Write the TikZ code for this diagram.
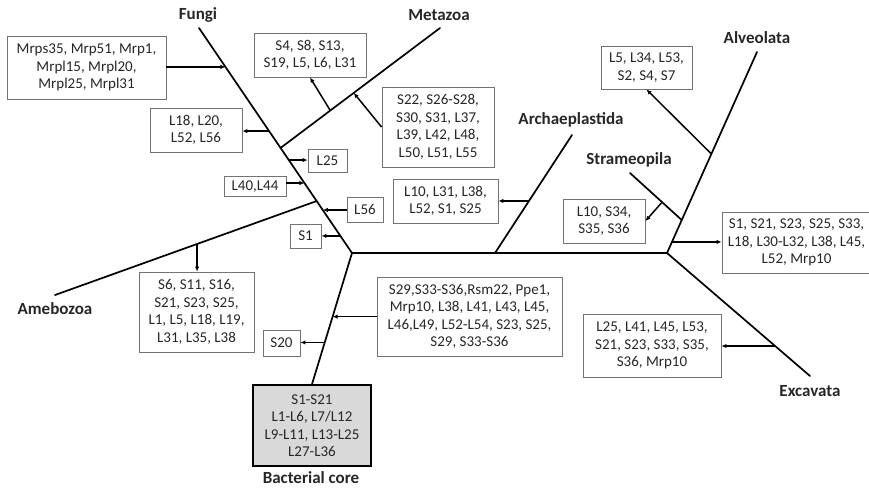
\documentclass[tikz,border=0pt]{standalone}
\usepackage{fontspec}
\setmainfont{Carlito}
\usetikzlibrary{arrows.meta,calc}
\begin{document}
\begin{tikzpicture}[x=1pt,y=-1pt,
  box/.style={draw=black!55,line width=0.9pt,align=center,inner sep=1pt,
    font=\fontsize{15}{17.5}\selectfont,text=black!85},
  corebox/.style={box,draw=black,line width=1.6pt,fill=black!15},
  clade/.style={font=\fontsize{17}{20}\selectfont\bfseries,text=black!85},
  branch/.style={line width=1.7pt,line cap=round},
  arr/.style={line width=1.5pt,-{Latex[length=5pt,width=4.5pt]}}]
\useasboundingbox (0,0) rectangle (869,488);
% boxes
\node[box,minimum width=159,minimum height=63] (mrps) at (86.5,67.5) {Mrps35, Mrp51, Mrp1,\\Mrpl15, Mrpl20,\\Mrpl25, Mrpl31};
\node[box,minimum width=92,minimum height=44] (l18) at (196,130) {L18, L20,\\L52, L56};
\node[box,minimum width=112,minimum height=44] (s4) at (310,55) {S4, S8, S13,\\S19, L5, L6, L31};
\node[box,minimum width=112,minimum height=80] (s22) at (438,127) {S22, S26-S28,\\S30, S31, L37,\\L39, L42, L48,\\L50, L51, L55};
\node[box,minimum width=39,minimum height=23] (l25) at (327.5,160.5) {L25};
\node[box,minimum width=62,minimum height=20] (l40) at (255,186.5) {L40,L44};
\node[box,minimum width=36,minimum height=25] (l56) at (365,209.5) {L56};
\node[box,minimum width=31,minimum height=24] (s1) at (305.5,236) {S1};
\node[box,minimum width=115,minimum height=80] (s6) at (196.5,312) {S6, S11, S16,\\S21, S23, S25,\\L1, L5, L18, L19,\\L31, L35, L38};
\node[box,minimum width=105,minimum height=44] (arch) at (445.5,201) {L10, L31, L38,\\L52, S1, S25};
\node[box,minimum width=91,minimum height=43] (l5) at (646.5,67.5) {L5, L34, L53,\\S2, S4, S7};
\node[box,minimum width=82,minimum height=44] (l10) at (604,221) {L10, S34,\\S35, S36};
\node[box,minimum width=149,minimum height=61] (rt) at (796.5,242.5) {S1, S21, S23, S25, S33,\\L18, L30-L32, L38, L45,\\L52, Mrp10};
\node[box,minimum width=185,minimum height=79] (mid) at (469.5,316.5) {S29,S33-S36,Rsm22, Ppe1,\\Mrp10, L38, L41, L43, L45,\\L46,L49, L52-L54, S23, S25,\\S29, S33-S36};
\node[box,minimum width=37,minimum height=26] (s20) at (281.5,343) {S20};
\node[box,minimum width=138,minimum height=63] (exc) at (652,345.5) {L25, L41, L45, L53,\\S21, S23, S33, S35,\\S36, Mrp10};
\node[corebox,minimum width=118,minimum height=81] (core) at (312,425.5) {S1-S21\\L1-L6, L7/L12\\L9-L11, L13-L25\\L27-L36};
% clade labels
\node[clade] (lfungi) at (198,15) {Fungi};
\node[clade] (lmeta) at (439,15) {Metazoa};
\node[clade] (larch) at (571,120) {Archaeplastida};
\node[clade] (lstram) at (629,160) {Strameopila};
\node[clade] (lalv) at (757,38) {Alveolata};
\node[clade] (lameb) at (55,309) {Amebozoa};
\node[clade] (lexc) at (810,391) {Excavata};
\node[clade] (lcore) at (311,478) {Bacterial core};
% tree coordinates
\coordinate (J) at (352,253);
\coordinate (E) at (667,253);
\coordinate (F1) at (199,28);
\coordinate (M1) at (440,28);
\coordinate (A1) at (55,295);
\coordinate (P0) at (495,253);
\coordinate (P1) at (572,135);
\coordinate (V1) at (757,52);
\coordinate (W1) at (630,173);
\coordinate (X1) at (810,376);
\coordinate (M0) at ($(F1)!0.533!(J)$);
\coordinate (A0) at ($(F1)!0.769!(J)$);
\coordinate (W0) at ($(E)!0.164!(V1)$);
% branches
\draw[branch] (core.north) -- (J);
\draw[branch,line width=2.4pt] (J) -- (E);
\draw[branch] (J) -- (F1);
\draw[branch] (M0) -- (M1);
\draw[branch] (A0) -- (A1);
\draw[branch] (P0) -- (P1);
\draw[branch] (E) -- (V1);
\draw[branch] (W0) -- (W1);
\draw[branch] (E) -- (X1);
% arrow anchor points
\coordinate (f1) at ($(F1)!0.173!(J)$);
\coordinate (f2) at ($(F1)!0.458!(J)$);
\coordinate (f3) at ($(F1)!0.587!(J)$);
\coordinate (f4) at ($(F1)!0.689!(J)$);
\coordinate (f5) at ($(F1)!0.809!(J)$);
\coordinate (f6) at ($(F1)!0.924!(J)$);
\coordinate (m1) at ($(M0)!0.312!(M1)$);
\coordinate (m2) at ($(M0)!0.459!(M1)$);
\coordinate (a1) at ($(A0)!0.457!(A1)$);
\coordinate (t1) at ($(core.north)!0.515!(J)$);
\coordinate (t2) at ($(core.north)!0.318!(J)$);
\coordinate (p1) at ($(P0)!0.441!(P1)$);
\coordinate (v1) at ($(E)!0.055!(V1)$);
\coordinate (v2) at ($(E)!0.493!(V1)$);
\coordinate (w1) at ($(W0)!0.38!(W1)$);
\coordinate (x1) at ($(E)!0.756!(X1)$);
% arrows
\draw[arr] (f1 -| mrps.east) -- (f1);
\draw[arr] (f2) -- (f2 -| l18.east);
\draw[arr] (f3) -- (f3 -| l25.west);
\draw[arr] (f4 -| l40.east) -- (f4);
\draw[arr] (f5 -| l56.west) -- (f5);
\draw[arr] (f6) -- (f6 -| s1.east);
\draw[arr] (m1) -- (s4.south);
\draw[arr] (s22.west) -- (m2);
\draw[arr] (a1) -- (a1 |- s6.north);
\draw[arr] (t1 -| mid.west) -- (t1);
\draw[arr] (t2) -- (t2 -| s20.east);
\draw[arr] (p1) -- (p1 -| arch.east);
\draw[arr] (v1) -- (v1 -| rt.west);
\draw[arr] (v2) -- (l5.south);
\draw[arr] (w1) -- (l10.east);
\draw[arr] (x1) -- (x1 -| exc.east);
\end{tikzpicture}
\end{document}
